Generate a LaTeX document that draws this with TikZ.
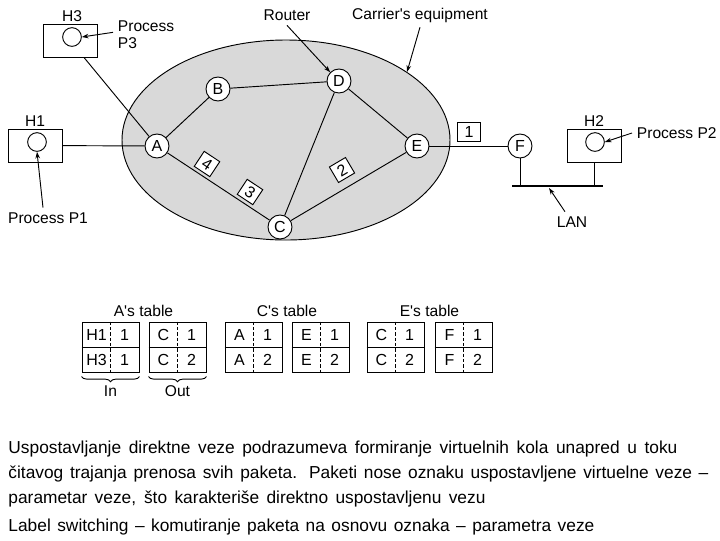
\documentclass[tikz,border=0pt]{standalone}
\usepackage{fontspec}
\setmainfont{Liberation Sans}
\usepackage{tikz}
\usetikzlibrary{arrows.meta,calc,decorations.pathreplacing,positioning}
\definecolor{carrier}{gray}{0.85}

\begin{document}
\begin{tikzpicture}[
  x=0.75pt,y=-0.75pt,>={Stealth[length=5pt,width=3.4pt]},
  line width=0.7pt,
  every node/.style={font=\fontsize{11.7}{13}\selectfont},
  router/.style={circle,draw,fill=white,minimum size=18pt,inner sep=0pt,
    font=\fontsize{12}{13}\selectfont},
  host/.style={draw,minimum width=40.5pt,minimum height=24.75pt,inner sep=0pt},
  proc/.style={circle,draw,minimum size=14pt,inner sep=0pt},
  packet/.style={draw,fill=white,minimum width=14pt,minimum height=13.5pt,inner sep=0pt,
    font=\fontsize{12}{13}\selectfont},
  half/.style={draw,minimum width=42.75pt,minimum height=37.5pt,inner sep=0pt},
  entry/.style={inner sep=0pt,font=\fontsize{12}{13}\selectfont},
  prose/.style={font=\fontsize{13}{18.75}\selectfont,anchor=west,align=left,inner sep=0pt}
]
  \useasboundingbox (0,0) rectangle (720,540);

  \draw[fill=carrier] (286,140) ellipse [x radius=164,y radius=100];
  \coordinate (rim) at (407,72);

  \node[router] (A) at (157,146) {A};
  \node[router] (B) at (218,89) {B};
  \node[router] (D) at (339,81) {D};
  \node[router] (E) at (417,146) {E};
  \node[router] (C) at (280,227) {C};
  \node[router] (F) at (520,146) {F};

  \node[host] (H1) at (35,145.5) {};
  \node[proc] (p1) at (37,142) {};
  \node (h1lbl) at (35,121) {H1};
  \node[host] (H3) at (70,40.5) {};
  \node[proc] (p3) at (72,37) {};
  \node (h3lbl) at (72,16) {H3};
  \node[host] (H2) at (594,145.5) {};
  \node[proc] (p2) at (595,142) {};
  \node (h2lbl) at (594,121) {H2};

  \draw (A) -- (B);
  \draw (B) -- (D);
  \draw (D) -- (E);
  \draw (D) -- (C);
  \draw (A) -- (C);
  \draw (C) -- (E);
  \draw (H1) -- (A);
  \draw (H3) -- (A);
  \draw (E) -- (F);

  \node[packet,minimum width=17pt,minimum height=14pt] (pk1) at (469,132) {1};
  \node[packet,rotate=30.5] (pk2) at (342,170) {2};
  \node[packet,rotate=-33.5] (pk3) at (250,192) {3};
  \node[packet,rotate=-33.5] (pk4) at (207,164) {4};

  \coordinate (lanL) at (512,186);
  \coordinate (lanR) at (603,186);
  \coordinate (lanTip) at (549,188);
  \draw[line width=1.6pt] (lanL) -- (lanR);
  \draw (F) -- (F |- lanL);
  \draw (H2) -- (H2 |- lanL);
  \node (lanlbl) at (572,222) {LAN};
  \draw[->] ($(lanlbl.north)+(-7,0)$) -- (lanTip);

  \node (routerlbl) at (287,15) {Router};
  \draw[->] (routerlbl.south) -- (D.north west);
  \node (carrierlbl) at (420,15) {Carrier\textquotesingle s equipment};
  \draw[->] (carrierlbl.south) -- (rim);

  \node[align=left,anchor=west] (p3lbl) at (113,35) {Process\\P3};
  \draw[->] ([yshift=2pt]p3lbl.west) -- (p3.east);
  \node (p1lbl) at (48,218) {Process P1};
  \draw[->] ($(p1lbl.north)+(-5,0)$) -- (p1.south);
  \node[anchor=west] (p2lbl) at (632,133) {Process P2};
  \draw[->] (p2lbl.west) -- (p2.east);

  \foreach \bx/\id/\la/\ra/\lb/\rb in {110.5/ain/H1/1/H3/1, 177.5/aout/C/1/C/2,
      253.5/cin/A/1/A/2, 320.5/cout/E/1/E/2, 395.5/ein/C/1/C/2, 463.5/eout/F/1/F/2}{
    \node[half] (\id) at (\bx,347) {};
    \draw (\id.west) -- (\id.east);
    \draw[dash pattern=on 2.5pt off 1.5pt] (\id.north) -- (\id.south);
    \node[entry] (\id-la) at ($(\id.center)+(-14,-12.5)$) {\la};
    \node[entry] (\id-ra) at ($(\id.center)+(14,-12.5)$) {\ra};
    \node[entry] (\id-lb) at ($(\id.center)+(-14,12.5)$) {\lb};
    \node[entry] (\id-rb) at ($(\id.center)+(14,12.5)$) {\rb};
  }
  \node (atitle) at (143.5,311) {A\textquotesingle s table};
  \node (ctitle) at (287,311) {C\textquotesingle s table};
  \node (etitle) at (429.5,311) {E\textquotesingle s table};

  \draw[decorate,decoration={brace,mirror,amplitude=4pt}]
    ([yshift=-3pt]ain.south west) -- ([yshift=-3pt]ain.south east)
    node[midway,below=3pt] (inlbl) {In};
  \draw[decorate,decoration={brace,mirror,amplitude=4pt}]
    ([yshift=-3pt]aout.south west) -- ([yshift=-3pt]aout.south east)
    node[midway,below=3pt] (outlbl) {Out};

  \node[prose] (txt1) at (8,474)
    {\makebox[501.75pt][s]{Uspostavljanje direktne veze podrazumeva formiranje virtuelnih kola unapred u toku}\\
     \makebox[525pt][s]{čitavog trajanja prenosa svih paketa. Paketi nose oznaku uspostavljene virtuelne veze –}\\
     \makebox[357.75pt][s]{parametar veze, što karakteriše direktno uspostavljenu vezu}};
  \node[prose] (txt2) at (8,527)
    {\makebox[439.5pt][s]{Label switching – komutiranje paketa na osnovu oznaka – parametra veze}};
\end{tikzpicture}
\end{document}
